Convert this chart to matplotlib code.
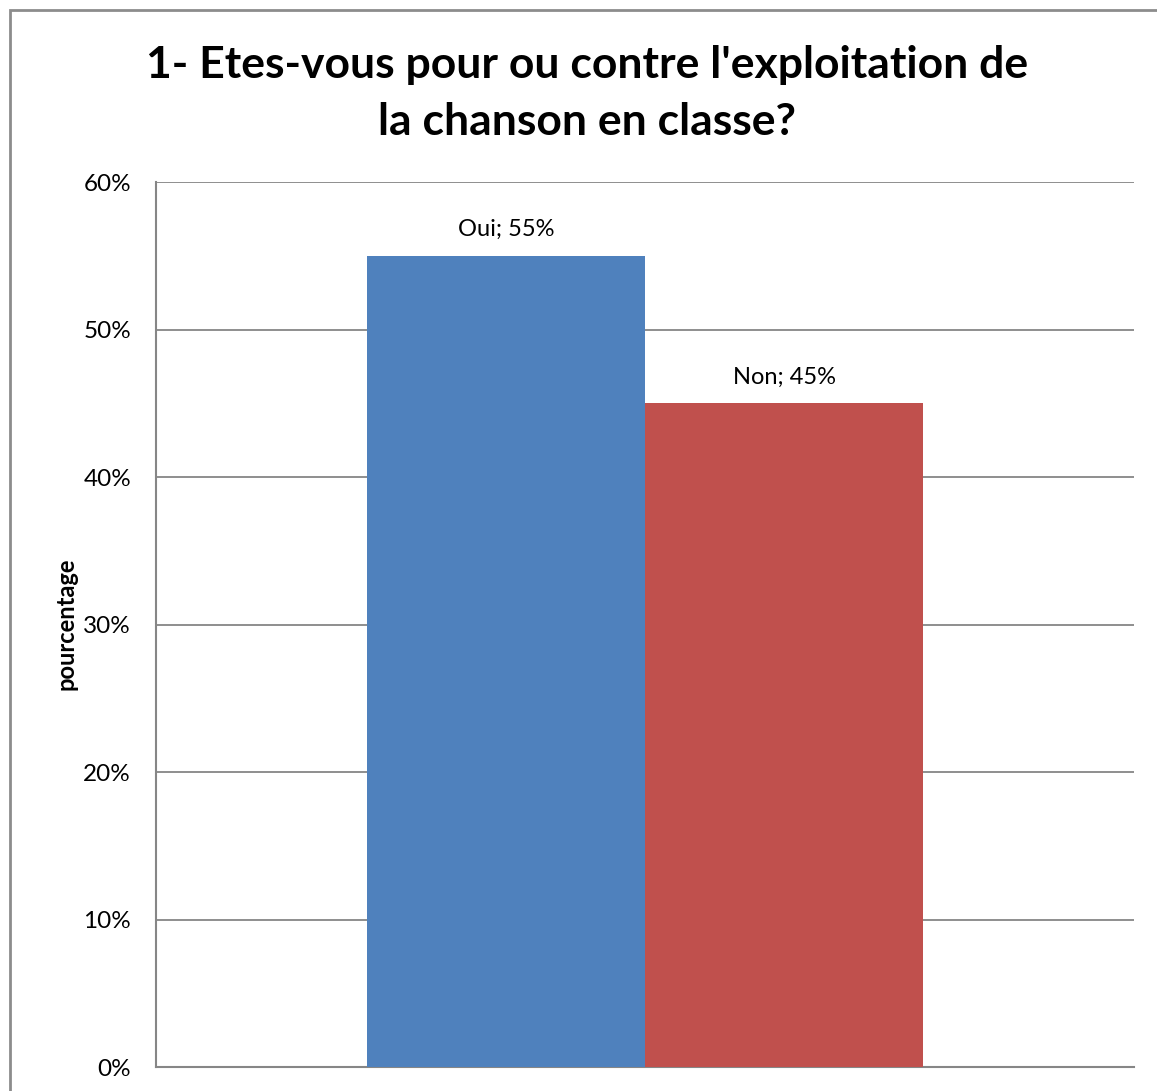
import matplotlib
matplotlib.use("Agg")
import matplotlib.pyplot as plt
from matplotlib.patches import Rectangle
from matplotlib.ticker import FuncFormatter

categories = ["Oui", "Non"]
values = [55, 45]
colors = ["#4F81BD", "#C0504D"]
yticks = [0, 10, 20, 30, 40, 50, 60]
title_lines = ["1- Etes-vous pour ou contre l'exploitation de", "la chanson en classe?"]
ylabel = "pourcentage"

W, H = 1157, 1091
fig = plt.figure(figsize=(W / 100, H / 100), dpi=100)
plt.rcParams['font.family'] = ['Lato', 'DejaVu Sans']

# figure border
fig.patches.append(Rectangle((10 / W, -0.1), 1.2, 1 - 10 / H + 0.1, transform=fig.transFigure,
                             fill=False, edgecolor="#8C8C8C", linewidth=2))

left, right, top, bottom = 156, 1134, 182, 1067
ax = fig.add_axes([left / W, 1 - bottom / H, (right - left) / W, (bottom - top) / H])

bw = 0.2845
xs = [-bw / 2, bw / 2]
bars = ax.bar(xs, values, width=bw, color=colors, zorder=3)
for x, v, c in zip(xs, values, categories):
    ax.text(x, v + 1.05, f"{c}; {v}%", ha="center", va="bottom", fontsize=17, color="#000000")

ax.set_xlim(-0.5, 0.5)
ax.set_ylim(0, 60)
ax.set_yticks(yticks)
ax.yaxis.set_major_formatter(FuncFormatter(lambda v, p: f"{int(v)}%"))
ax.set_xticks([])
ax.tick_params(axis="y", length=0, pad=18, labelsize=17.5)
ax.grid(axis="y", color="#868686", linewidth=1.3, zorder=0)
for s in ["top", "right"]:
    ax.spines[s].set_visible(False)
for s in ["left", "bottom"]:
    ax.spines[s].set_color("#868686")
    ax.spines[s].set_linewidth(1.5)

for line, base in zip(title_lines, [78, 135]):
    fig.text(587 / W, 1 - base / H, line, ha="center", va="baseline", fontsize=32,
             fontweight="bold")
fig.text(66 / W, 1 - 624 / H, ylabel, rotation=90, ha="center", va="center", fontsize=17,
         fontweight="bold")

fig.savefig("out.png", dpi=100)
